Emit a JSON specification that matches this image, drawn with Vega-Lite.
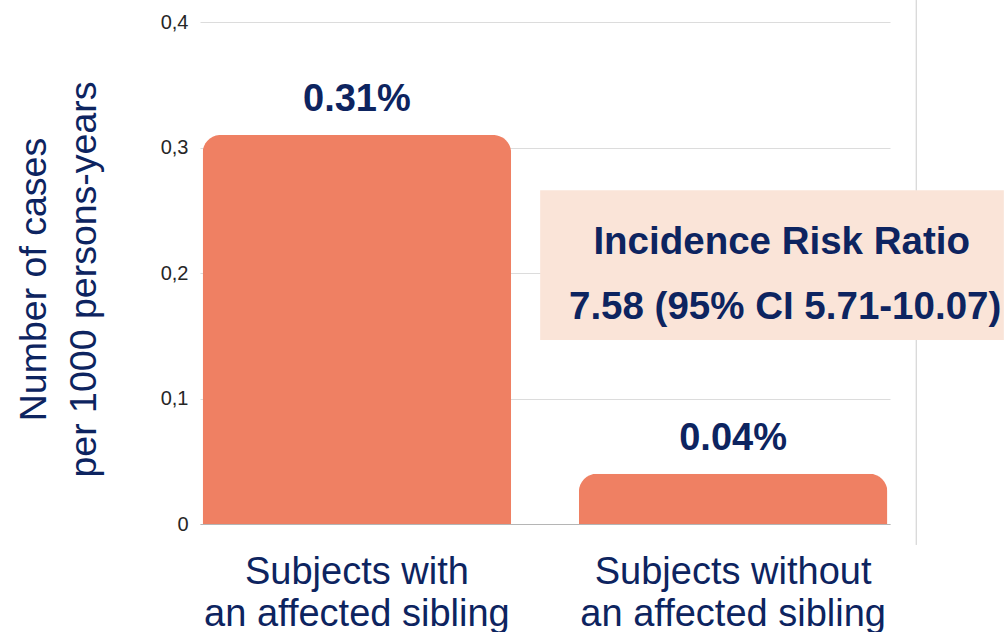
{
  "$schema": "https://vega.github.io/schema/vega-lite/v6.json",
  "width": 690,
  "height": 502,
  "autosize": {"type": "none"},
  "padding": {"left": 200, "top": 22, "right": 114, "bottom": 108},
  "background": "white",
  "config": {"view": {"stroke": null}, "font": "Liberation Sans"},
  "datasets": {
    "bars": [
      {"group": "Subjects  with|an affected sibling", "value": 0.31, "label": "0.31%"},
      {"group": "Subjects  without|an affected sibling", "value": 0.04, "label": "0.04%"}
    ],
    "box": [{"x1": 0.493, "x2": 1.165, "y1": 0.1466, "y2": 0.266}],
    "boxtext": [
      {"tx": 0.843, "ty": 0.2245, "text": "Incidence Risk Ratio"},
      {"tx": 0.848, "ty": 0.1727, "text": "7.58 (95% CI 5.71-10.07)"}
    ],
    "vline": [{"rx": 1.038, "ry1": -0.0167, "ry2": 0.4175}]
  },
  "layer": [
    {
      "data": {"name": "bars"},
      "encoding": {
        "x": {
          "field": "group", "type": "nominal", "sort": null,
          "scale": {"type": "band", "paddingInner": 0.18, "paddingOuter": 0.007},
          "axis": {
            "title": null, "labelAngle": 0, "ticks": false, "labelPadding": 29,
            "labelFontSize": 38, "labelColor": "#0d2460", "labelFont": "Liberation Sans",
            "labelLineHeight": 42, "labelExpr": "split(datum.label, '|')",
            "domain": true, "domainColor": "#b5b5b5", "labelLimit": 0
          }
        },
        "y": {
          "field": "value", "type": "quantitative",
          "scale": {"domain": [0, 0.4], "nice": false},
          "axis": {
            "values": [0, 0.1, 0.2, 0.3, 0.4],
            "labelExpr": "datum.value == 0 ? '0' : replace(format(datum.value, '.1f'), '.', ',')",
            "labelFontSize": 20, "labelColor": "#262626", "labelFont": "Liberation Sans",
            "labelPadding": 12, "ticks": false, "domain": false,
            "grid": true, "gridColor": "#dcdcdc", "gridWidth": 1,
            "title": ["Number  of cases", "per 1000 persons-years"],
            "titleFontSize": 37.5, "titleFontWeight": "normal", "titleColor": "#0d2460",
            "titleFont": "Liberation Sans", "titleLineHeight": 50,
            "titleAngle": -90, "titleBaseline": "top", "titleAlign": "center",
            "titleX": -185, "titleY": 257
          }
        }
      },
      "layer": [
        {
          "mark": {"type": "bar", "color": "#EF8063", "cornerRadiusTopLeft": 18, "cornerRadiusTopRight": 18}
        },
        {
          "mark": {"type": "text", "baseline": "alphabetic", "dy": -24, "fontSize": 38, "fontWeight": "bold", "color": "#0d2460", "font": "Liberation Sans"},
          "encoding": {"text": {"field": "label"}}
        }
      ]
    },
    {
      "data": {"name": "vline"},
      "mark": {"type": "rule", "color": "#cccccc", "strokeWidth": 1},
      "encoding": {
        "x": {"field": "rx", "type": "quantitative", "scale": {"domain": [0, 1], "nice": false, "zero": false}, "axis": null},
        "y": {"field": "ry1", "type": "quantitative"},
        "y2": {"field": "ry2"}
      }
    },
    {
      "data": {"name": "box"},
      "mark": {"type": "rect", "color": "#FAE4D8"},
      "encoding": {
        "x": {"field": "x1", "type": "quantitative", "scale": {"domain": [0, 1], "nice": false, "zero": false}, "axis": null},
        "x2": {"field": "x2"},
        "y": {"field": "y1", "type": "quantitative"},
        "y2": {"field": "y2"}
      }
    },
    {
      "data": {"name": "boxtext"},
      "mark": {"type": "text", "baseline": "middle", "align": "center", "fontSize": 38.5, "fontWeight": "bold", "color": "#0d2460", "font": "Liberation Sans"},
      "encoding": {
        "x": {"field": "tx", "type": "quantitative", "scale": {"domain": [0, 1], "nice": false, "zero": false}, "axis": null},
        "y": {"field": "ty", "type": "quantitative"},
        "text": {"field": "text"}
      }
    }
  ],
  "resolve": {"scale": {"x": "independent"}}
}
